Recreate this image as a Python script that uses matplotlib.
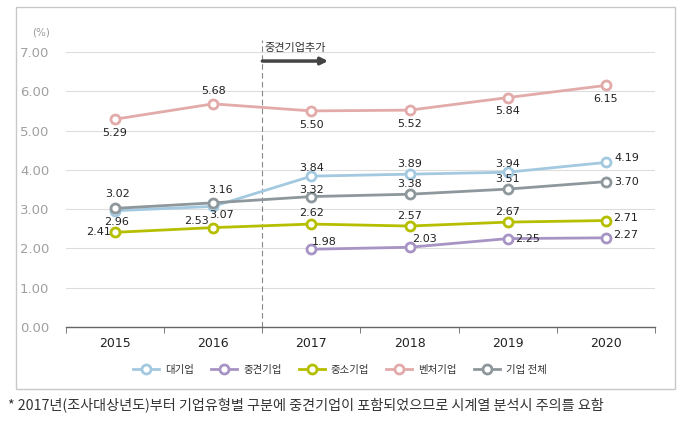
import matplotlib
matplotlib.use("Agg")
import matplotlib.pyplot as plt
from matplotlib.patches import Rectangle
import numpy as np

plt.rcParams['font.family'] = ['Noto Sans CJK KR', 'DejaVu Sans']

years = ['2015', '2016', '2017', '2018', '2019', '2020']
series_names = ['대기업', '중견기업', '중소기업', '벤처기업', '기업 전체']
large = [2.96, 3.07, 3.84, 3.89, 3.94, 4.19]
midsize = [None, None, 1.98, 2.03, 2.25, 2.27]
sme = [2.41, 2.53, 2.62, 2.57, 2.67, 2.71]
venture = [5.29, 5.68, 5.50, 5.52, 5.84, 6.15]
total = [3.02, 3.16, 3.32, 3.38, 3.51, 3.70]
yticks = [0, 1, 2, 3, 4, 5, 6, 7]
note = '중견기업추가'
footnote = '* 2017년(조사대상년도)부터 기업유형별 구분에 중견기업이 포함되었으므로 시계열 분석시 주의를 요함'

colors = ['#a3c9e0', '#a794c4', '#b5bf00', '#e2aaa9', '#8e979c']
data = [large, midsize, sme, venture, total]

# label offsets (points) per series per point
offsets = {
    0: [(1, -8), (6, -6.5), (0, 6), (0, 7), (0, 6), (15, 3)],
    1: [None, None, (9, 5), (11, 6), (14, 0), (14, 2)],
    2: [(-12, 0), (-12, 5), (0, 8), (0, 7), (0, 7), (14, 2)],
    3: [(0, -10), (0, 9), (0, -10), (0, -10), (0, -10), (0, -10)],
    4: [(2, 10), (5, 9), (0, 5), (0, 7), (0, 7), (15, 0)],
}

fig = plt.figure(figsize=(6.91, 4.24), dpi=100)
ax = fig.add_axes([66/691, 1-327/424, (655-66)/691, (327-52)/424])

x = np.arange(len(years))
handles = []
for i, (name, vals, c) in enumerate(zip(series_names, data, colors)):
    xs = [xi for xi, v in zip(x, vals) if v is not None]
    ys = [v for v in vals if v is not None]
    h, = ax.plot(xs, ys, color=c, lw=2, marker='o', ms=6.5, mfc='white',
                 mec=c, mew=2, label=name, zorder=3 + i)
    handles.append(h)
    for xi, v, off in zip(x, vals, offsets[i]):
        if v is None:
            continue
        ax.annotate(f'{v:.2f}', (xi, v), xytext=off, textcoords='offset points',
                    ha='center', va='center', fontsize=8, color='#222222',
                    family='DejaVu Sans', zorder=10)

ax.set_xlim(-0.5, 5.5)
ax.set_ylim(0, 7)
ax.set_yticks(yticks)
ax.set_yticklabels([f'{t:.2f}' for t in yticks], color='#a0a0a0', fontsize=9.5,
                   family='DejaVu Sans')
ax.set_xticks(x)
ax.set_xticklabels(years, fontsize=9, color='#222222', family='DejaVu Sans')
ax.set_xticks(np.arange(-0.5, 6, 1), minor=True)
ax.tick_params(axis='x', which='major', length=0, pad=7)
ax.tick_params(axis='x', which='minor', length=4, color='#666666', direction='out')
ax.tick_params(axis='y', length=0, pad=12)
ax.grid(axis='y', color='#dddddd', lw=0.8)
ax.set_axisbelow(True)
for s in ['top', 'right', 'left']:
    ax.spines[s].set_visible(False)
ax.spines['bottom'].set_color('#666666')
ax.spines['bottom'].set_linewidth(1)

# divider line
ax.plot([1.5, 1.5], [0, 7.3], ls=(0, (5, 3)), color='#888888', lw=0.8,
        clip_on=False, zorder=2)
ax.annotate('', xy=(2.17, 6.77), xytext=(1.5, 6.77),
            arrowprops=dict(arrowstyle='-|>', color='#444444', lw=2.5,
                            mutation_scale=10, shrinkA=0, shrinkB=0),
            annotation_clip=False)
ax.text(1.52, 7.1, note, fontsize=8, color='#333333', ha='left', va='center')
ax.text(-0.75, 7.5, '(%)', fontsize=7.5, color='#9a9a9a', ha='center', va='center',
        family='DejaVu Sans')

fig.legend(handles=handles, loc='center', bbox_to_anchor=(340/691, 1-370/424),
           ncol=5, frameon=False, fontsize=7.5, handlelength=2.5,
           columnspacing=1.6, handletextpad=0.6, labelcolor='#333333')

fig.patches.append(Rectangle((16/691, 1-389/424), (675-16)/691, (389-7)/424,
                             transform=fig.transFigure, fill=False,
                             edgecolor='#c8c8c8', lw=1))
fig.text(8/691, 1-405/424, footnote, fontsize=10.2, color='#333333',
         ha='left', va='center')

fig.savefig('out.png', dpi=100)
